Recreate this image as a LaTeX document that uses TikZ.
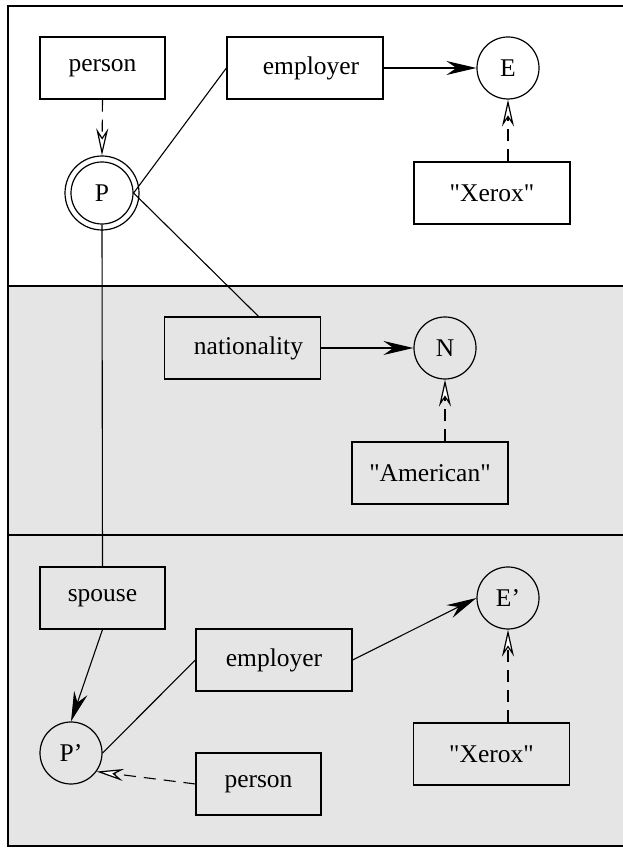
\documentclass[tikz,border=0pt]{standalone}
\usepackage{fontspec}
\setmainfont{Liberation Serif}[Ligatures=TeXOff]
\usetikzlibrary{arrows.meta}
\definecolor{bandgray}{HTML}{E5E5E5}
\begin{document}
\begin{tikzpicture}[x=1pt,y=1pt,
  every node/.style={font=\fontsize{25.5}{30}\selectfont, inner sep=0pt},
  labelbox/.style={draw, line width=1.2pt, minimum height=62pt},
  widebox/.style={labelbox, minimum width=156pt},
  narrowbox/.style={labelbox, minimum width=125pt},
  varcirc/.style={draw, circle, line width=1.2pt, minimum size=62pt},
  link/.style={line width=1.1pt},
  valarrow/.style={line width=1.1pt, -{Stealth[length=30pt,width=14pt,inset=10pt]}},
  typearrow/.style={line width=1.1pt, dash pattern=on 12pt off 8pt,
     -{Stealth[length=27pt,width=12pt,inset=9pt,fill=white,line width=1.2pt]}},
  frameline/.style={line width=2.2pt}
]
\useasboundingbox (0,0) rectangle (623,848);
% backgrounds
\fill[bandgray] (8,2) rectangle (623,562);
% frame
\draw[frameline] (623,842) -- (8,842) -- (8,2) -- (623,2);
\draw[frameline] (8,562) -- (623,562);
\draw[frameline] (8,313) -- (623,313);

% top band
\node[narrowbox] (person) at (102.5,780) {person};
\node[widebox] (employer) at (305,780) {\hspace*{12pt}employer};
\node[varcirc] (E) at (508,780) {E};
\node[widebox] (xerox) at (492,655) {"Xerox"};
\node[draw, circle, line width=1.2pt, minimum size=74pt] (Pout) at (102,655) {};
\node[varcirc] (P) at (102,655) {P};

% middle band
\node[widebox] (nat) at (242.5,500) {\hspace*{12pt}nationality};
\node[varcirc] (N) at (445,500) {N};
\node[widebox] (amer) at (430,375) {"American"};

% bottom band
\node[narrowbox] (spouse) at (102.5,250) {spouse};
\node[widebox] (emp2) at (274,188) {employer};
\node[varcirc] (Pp) at (71,95) {P’};
\node[narrowbox] (person2) at (258.5,64) {person};
\node[varcirc] (Ep) at (508,250) {E’};
\node[widebox] (xerox2) at (491.5,94) {"Xerox"};

% connectors
\draw[typearrow] (person.south) -- (Pout.north);
\draw[link] (P.east) -- (employer.west);
\draw[valarrow] (employer.east) -- (E.west);
\draw[typearrow] (E |- xerox.north) -- (E.south);
\draw[link] (P.east) -- ([xshift=16pt]nat.north);
\draw[valarrow] (nat.east) -- (N.west);
\draw[typearrow] (N |- amer.north) -- (N.south);
\draw[link] (P.south) -- (spouse.north);
\draw[valarrow] (spouse.south) -- (Pp.north);
\draw[link] (Pp.east) -- (emp2.west);
\draw[valarrow] (emp2.east) -- (Ep.west);
\draw[typearrow] (person2.west) -- (Pp.-36);
\draw[typearrow] (Ep |- xerox2.north) -- (Ep.south);
\end{tikzpicture}
\end{document}
